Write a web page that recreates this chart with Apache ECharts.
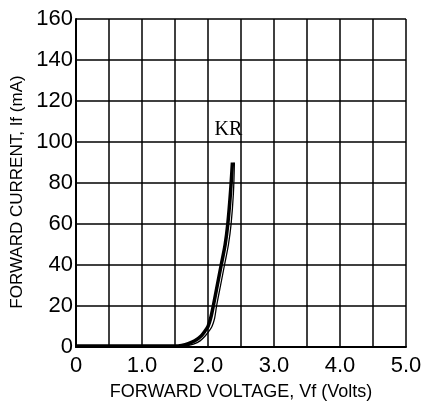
<!DOCTYPE html>
<html lang="en">
<head>
<meta charset="UTF-8">
<title>Forward current vs forward voltage</title>
<script src="https://cdn.jsdelivr.net/npm/echarts@6/dist/echarts.min.js"></script>
<style>
    * { margin: 0; padding: 0 }
    html, body { width: 100%; height: 100%; background: #fff; }
    #chart { width: 422px; height: 405px; }
</style>
</head>
<body>
<div id="chart"></div>
<script>
    // curve (Vf in volts, If in mA)
    var vf = [0, 0.5, 1.0, 1.5, 1.6, 1.7, 1.8, 1.9, 1.96, 2.0, 2.04, 2.08, 2.14, 2.20, 2.26, 2.30, 2.34, 2.37];
    var ifmA = [0.5, 0.5, 0.5, 0.5, 0.8, 1.6, 3.0, 5.5, 8, 10, 14, 20, 30, 40, 50, 60, 75, 90];
    // second, thinner trace drawn just beside the main one
    var vf2 = [1.58, 1.68, 1.78, 1.88, 1.96, 2.02, 2.06, 2.10, 2.13, 2.19, 2.25, 2.31, 2.35, 2.385, 2.40];
    var ifmA2 = [0.2, 0.6, 1.4, 3.0, 5.5, 8, 10, 14, 20, 30, 40, 50, 60, 75, 90];
    var labelName = 'KR';
    var labelPos = [2.31, 106];

    var fnt = '"Liberation Sans", Arial, sans-serif';

    function pairs(xs, ys) {
        var out = [];
        for (var i = 0; i < xs.length; i++) out.push([xs[i], ys[i]]);
        return out;
    }

    var myChart = echarts.init(document.getElementById('chart'));
    var option = {
        animation: false,
        grid: { left: 76, right: 16, top: 19, bottom: 58, containLabel: false, outerBoundsMode: 'none' },
        xAxis: {
            type: 'value', min: 0, max: 5, interval: 0.5,
            name: 'FORWARD VOLTAGE, Vf (Volts)',
            nameLocation: 'middle', nameGap: 36,
            nameTextStyle: { fontFamily: fnt, fontSize: 18, color: '#000' },
            axisLine: { lineStyle: { color: '#000', width: 2 } },
            axisTick: { show: false },
            axisLabel: {
                fontFamily: fnt, fontSize: 22, color: '#000', margin: 8,
                formatter: function (v) {
                    if (Math.abs(v - Math.round(v)) > 1e-6) return '';
                    return v === 0 ? '0' : v.toFixed(1);
                }
            },
            splitLine: { show: true, lineStyle: { color: '#000', width: 1.5 } }
        },
        yAxis: {
            type: 'value', min: 0, max: 160, interval: 20,
            name: 'FORWARD CURRENT, If (mA)',
            nameLocation: 'middle', nameGap: 44,
            nameTextStyle: { fontFamily: fnt, fontSize: 17, color: '#000', padding: [0, 18, 0, 0] },
            axisLine: { show: true, lineStyle: { color: '#000', width: 2 } },
            axisTick: { show: false },
            axisLabel: { fontFamily: fnt, fontSize: 22, color: '#000', margin: 3 },
            splitLine: { show: true, lineStyle: { color: '#000', width: 1.5 } }
        },
        series: [
            {
                type: 'line', data: pairs(vf, ifmA), smooth: 0.3, z: 3,
                showSymbol: false, lineStyle: { color: '#000', width: 3.5 },
                markPoint: {
                    symbol: 'circle', symbolSize: 1,
                    itemStyle: { color: 'rgba(0,0,0,0)' },
                    label: {
                        show: true, position: 'inside', formatter: labelName,
                        fontFamily: '"Liberation Serif", "DejaVu Serif", serif', fontSize: 20, color: '#000'
                    },
                    data: [{ coord: labelPos }]
                }
            },
            {
                type: 'line', data: pairs(vf2, ifmA2), smooth: 0.3, z: 2,
                showSymbol: false, lineStyle: { color: '#000', width: 1.3 }
            }
        ]
    };
    myChart.setOption(option);
</script>
</body>
</html>
